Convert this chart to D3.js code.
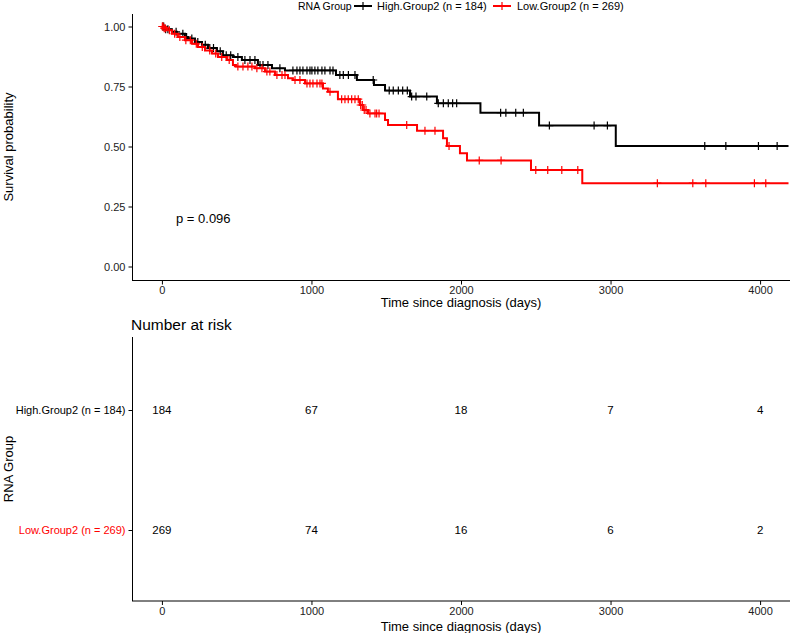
<!DOCTYPE html>
<html><head><meta charset="utf-8">
<script src="https://cdn.jsdelivr.net/npm/d3@7"></script>
<style>body{margin:0;background:#fff} text{font-family:"Liberation Sans",Arial,sans-serif}</style>
</head><body><svg id="c" width="790" height="633"></svg>
<script>
// ---------- data ----------
const groups = ["High.Group2 (n = 184)", "Low.Group2 (n = 269)"];
const groupColors = ["#000000", "#FF0000"];
const legendTitle = "RNA Group";

const highEventTimes = [15, 67, 100, 154, 174, 221, 268, 308, 368, 408, 475, 535, 642, 736, 823, 1164, 1304, 1418, 1492, 1659, 1839, 2130, 2522, 3035];
const highSurvival   = [0.989, 0.978, 0.970, 0.956, 0.950, 0.935, 0.924, 0.910, 0.897, 0.880, 0.873, 0.860, 0.840, 0.826, 0.817, 0.798, 0.777, 0.756, 0.733, 0.708, 0.680, 0.641, 0.587, 0.502];
const highCensorTimes = [5, 12, 25, 40, 95, 140, 165, 200, 240, 290, 320, 345, 390, 430, 460, 508, 555, 589, 622, 656, 676, 709, 789, 876, 903, 923, 943, 970, 990, 1003, 1023, 1043, 1070, 1090, 1124, 1144, 1190, 1213, 1247, 1291, 1413, 1520, 1547, 1581, 1610, 1641, 1670, 1699, 1771, 1848, 1882, 1915, 1944, 1971, 2265, 2300, 2366, 2417, 2591, 2890, 2979, 3630, 3771, 3989, 4114];

const lowEventTimes = [10, 33, 67, 107, 154, 201, 241, 288, 335, 375, 435, 475, 495, 622, 689, 756, 843, 876, 957, 1077, 1110, 1177, 1324, 1344, 1378, 1492, 1512, 1706, 1880, 1906, 1993, 2040, 2468, 2811];
const lowSurvival   = [0.993, 0.984, 0.970, 0.956, 0.943, 0.928, 0.915, 0.900, 0.887, 0.873, 0.860, 0.840, 0.833, 0.826, 0.812, 0.798, 0.784, 0.777, 0.763, 0.742, 0.728, 0.697, 0.673, 0.652, 0.638, 0.610, 0.590, 0.566, 0.534, 0.502, 0.472, 0.442, 0.402, 0.347];
const lowCensorTimes = [3, 8, 15, 22, 50, 85, 120, 160, 190, 230, 270, 320, 360, 400, 450, 508, 542, 575, 602, 635, 669, 702, 722, 769, 803, 823, 890, 923, 970, 990, 1010, 1037, 1057, 1070, 1124, 1202, 1224, 1246, 1269, 1291, 1313, 1329, 1340, 1353, 1365, 1391, 1425, 1436, 1452, 1637, 1759, 1826, 1920, 2122, 2268, 2500, 2580, 2674, 2781, 3313, 3550, 3637, 3962, 4038];

const maxTime = 4190;
const timeTicks = [0, 1000, 2000, 3000, 4000];
const survTicks = [0, 0.25, 0.5, 0.75, 1];
const riskHigh = [184, 67, 18, 7, 4];
const riskLow  = [269, 74, 16, 6, 2];
const pValueText = "p = 0.096";
const xTitle = "Time since diagnosis (days)";
const yTitle = "Survival probability";
const riskTitle = "Number at risk";

// ---------- drawing ----------
const svg = d3.select("#c");
const axisCol = "#000";
const tickTextCol = "#222";

const x = d3.scaleLinear().domain([-200, 4200]).range([132, 790]);
const y = d3.scaleLinear().domain([0, 1]).range([266.5, 26.5]);
const panelTop = 14, panelBottom = 280.5;

svg.append("line").attr("x1", 132.5).attr("x2", 132.5).attr("y1", panelTop).attr("y2", panelBottom)
  .attr("stroke", axisCol).attr("stroke-width", 1);
svg.append("line").attr("x1", 132).attr("x2", 790).attr("y1", panelBottom).attr("y2", panelBottom)
  .attr("stroke", axisCol).attr("stroke-width", 1);

function styleAxis(g) {
  g.select(".domain").remove();
  g.selectAll(".tick line").attr("stroke", axisCol).attr("stroke-width", 1);
  g.selectAll(".tick text").attr("fill", tickTextCol).style("font-size", "11px")
    .style("font-family", "'Liberation Sans', Arial, sans-serif");
}

svg.append("g").attr("transform", "translate(132.5,0)")
  .call(d3.axisLeft(y).tickValues(survTicks).tickFormat(d3.format(".2f")).tickSize(4).tickPadding(3))
  .call(styleAxis);
svg.append("g").attr("transform", `translate(0,${panelBottom})`)
  .call(d3.axisBottom(x).tickValues(timeTicks).tickFormat(d3.format("d")).tickSize(4).tickPadding(2))
  .call(styleAxis);

svg.append("text").attr("x", 461).attr("y", 307).attr("text-anchor", "middle")
  .style("font-size", "13px").attr("fill", "#000").text(xTitle);
svg.append("text").attr("transform", "translate(13,147) rotate(-90)").attr("text-anchor", "middle")
  .style("font-size", "13px").attr("fill", "#000").text(yTitle);

// curves
const series = [
  {times: highEventTimes, surv: highSurvival, cens: highCensorTimes, color: groupColors[0]},
  {times: lowEventTimes, surv: lowSurvival, cens: lowCensorTimes, color: groupColors[1]}
];
const line = d3.line().x(d => x(d[0])).y(d => y(d[1])).curve(d3.curveStepAfter);
function survAt(s, t) {
  const i = d3.bisectRight(s.times, t);
  return i === 0 ? 1 : s.surv[i - 1];
}
series.forEach(s => {
  const pts = [[0, 1]].concat(s.times.map((t, i) => [t, s.surv[i]]));
  pts.push([maxTime, s.surv[s.surv.length - 1]]);
  svg.append("path").attr("d", line(pts)).attr("fill", "none")
    .attr("stroke", s.color).attr("stroke-width", 2);
  const g = svg.append("g");
  s.cens.forEach(t => {
    const cx = x(t), cy = y(survAt(s, t));
    g.append("path").attr("d", `M${cx},${cy - 4}V${cy + 4}M${cx - 4},${cy}H${cx + 4}`)
      .attr("stroke", s.color).attr("stroke-width", 1.2);
  });
});

svg.append("text").attr("x", 176).attr("y", y(0.2) + 4.5).style("font-size", "13px")
  .attr("fill", "#000").text(pValueText);

// legend
const legY = 6;
svg.append("text").attr("x", 298).attr("y", legY + 4).style("font-size", "10.5px").attr("fill", "#000").text(legendTitle);
const legKeys = [363, 502];
const legLabels = [377, 517];
groups.forEach((g, i) => {
  const cx = legKeys[i];
  svg.append("path").attr("d", `M${cx - 9},${legY}H${cx + 9}`).attr("stroke", groupColors[i]).attr("stroke-width", 2);
  svg.append("path").attr("d", `M${cx},${legY - 4}V${legY + 4}M${cx - 4},${legY}H${cx + 4}`).attr("stroke", groupColors[i]).attr("stroke-width", 1.2);
  svg.append("text").attr("x", legLabels[i]).attr("y", legY + 4).style("font-size", "11px").attr("fill", "#000").text(g);
});

// ---------- risk table ----------
const rTop = 337, rBottom = 601;
const yr = d3.scalePoint().domain(groups).range([410, 530]);
svg.append("text").attr("x", 131).attr("y", 330).style("font-size", "15.5px").attr("fill", "#000").text(riskTitle);
svg.append("line").attr("x1", 132.5).attr("x2", 132.5).attr("y1", rTop).attr("y2", rBottom)
  .attr("stroke", axisCol).attr("stroke-width", 1);
svg.append("line").attr("x1", 132).attr("x2", 790).attr("y1", rBottom).attr("y2", rBottom)
  .attr("stroke", axisCol).attr("stroke-width", 1);
const yAxR = svg.append("g").attr("transform", "translate(132.5,0)")
  .call(d3.axisLeft(yr).tickSize(4).tickPadding(3)).call(styleAxis);
yAxR.selectAll(".tick text").style("font-size", "11px").attr("fill", (d, i) => i === 0 ? "#000" : groupColors[1]);
svg.append("g").attr("transform", `translate(0,${rBottom})`)
  .call(d3.axisBottom(x).tickValues(timeTicks).tickFormat(d3.format("d")).tickSize(4).tickPadding(2))
  .call(styleAxis);
svg.append("text").attr("x", 461).attr("y", 631).attr("text-anchor", "middle")
  .style("font-size", "13px").attr("fill", "#000").text(xTitle);
svg.append("text").attr("transform", "translate(13,469) rotate(-90)").attr("text-anchor", "middle")
  .style("font-size", "13px").attr("fill", "#000").text(legendTitle);

[riskHigh, riskLow].forEach((arr, gi) => {
  arr.forEach((v, i) => {
    svg.append("text").attr("x", x(timeTicks[i])).attr("y", yr(groups[gi]) + 4)
      .attr("text-anchor", "middle").style("font-size", "11.5px").attr("fill", "#000").text(v);
  });
});
</script></body></html>
